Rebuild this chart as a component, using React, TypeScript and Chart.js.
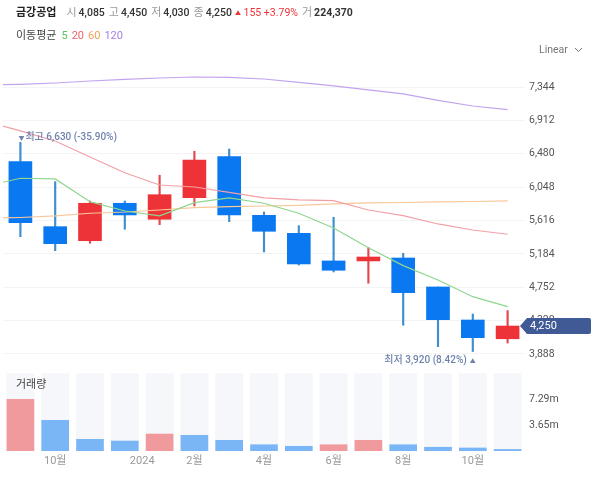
import { useEffect, useRef } from 'react'
import { Chart, registerables } from 'chart.js'

Chart.register(...registerables)

const FONT = 'Roboto, "Noto Sans CJK KR", sans-serif'
const CJK = '"Noto Sans CJK KR", sans-serif'

const STOCK_NAME = '금강공업'
const OHLC_LABELS = ['시', '고', '저', '종']
const OHLC_VALUES = ['4,085', '4,450', '4,030', '4,250']
const MA_PERIODS = ['5', '20', '60', '120']

// monthly candles, sep 2023 - nov 2024
const INDEX = [0, 1, 2, 3, 4, 5, 6, 7, 8, 9, 10, 11, 12, 13, 14]
const OPEN = [6379, 5537, 5355, 5840, 5633, 5913, 6444, 5684, 5451, 5093, 5093, 5131, 4756, 4328, 4085]
const CLOSE = [5589, 5317, 5840, 5689, 5951, 6401, 5689, 5477, 5054, 4972, 5144, 4682, 4332, 4099, 4250]
const HIGH = [6630, 6120, 5870, 5870, 6203, 6514, 6543, 5727, 5550, 5659, 5265, 5192, 4756, 4406, 4450]
const LOW = [5407, 5226, 5322, 5503, 5563, 5805, 5602, 5209, 5040, 4950, 4804, 4260, 3983, 3920, 4030]

// the averages start half a candle left of the first one
const MA_X = [-0.5, 0, 1, 2, 3, 4, 5, 6, 7, 8, 9, 10, 11, 12, 13, 14]
const MA5 = [6112, 6164, 6155, 5861, 5740, 5676, 5848, 5909, 5840, 5711, 5520, 5265, 5032, 4847, 4630, 4501]
const MA20 = [6841, 6777, 6647, 6440, 6236, 6077, 6051, 5980, 5909, 5883, 5874, 5753, 5679, 5572, 5494, 5439]
const MA60 = [5650, 5656, 5676, 5711, 5727, 5753, 5783, 5796, 5805, 5814, 5831, 5844, 5850, 5857, 5863, 5870]
const MA120 = [7376, 7381, 7398, 7424, 7444, 7463, 7476, 7470, 7450, 7405, 7360, 7308, 7256, 7172, 7100, 7053]

const VOLUME = [7.34, 4.36, 1.66, 1.42, 2.41, 2.23, 1.52, 0.89, 0.67, 0.89, 1.52, 0.89, 0.53, 0.43, 0.22]
const VOLUME_UP = [true, false, false, false, true, false, false, false, false, true, true, false, false, false, false]
const VOLUME_TRACK = 11

const PRICE_TICKS = [3888, 4320, 4752, 5184, 5616, 6048, 6480, 6912, 7344]
const VOLUME_TICKS = [3.65, 7.29]
const X_TICKS = [1, 3.5, 5, 7, 9, 11, 13]
const X_LABELS = ['10월', '2024', '2월', '4월', '6월', '8월', '10월']

const RED = '#ee3338'
const BLUE = '#0a78f0'
const NOTE = '#7083ad'

const labels = {
  id: 'labels',
  afterDraw(chart: any) {
    const { ctx, scales } = chart
    const x = scales.x
    const y = scales.y
    ctx.save()
    ctx.textBaseline = 'middle'
    ctx.fillStyle = NOTE
    ctx.textAlign = 'left'
    const hx = x.getPixelForValue(0) - 2
    const hy = y.getPixelForValue(6630) - 5
    ctx.font = `6px ${CJK}`
    ctx.fillText('▼', hx, hy)
    ctx.font = `500 10px ${FONT}`
    ctx.fillText('최고 6,630 (-35.90%)', hx + 7, hy)
    const lx = x.getPixelForValue(13) + 3
    const ly = y.getPixelForValue(3920) + 9
    ctx.textAlign = 'right'
    ctx.font = `6px ${CJK}`
    ctx.fillText('▲', lx, ly)
    ctx.font = `500 10px ${FONT}`
    ctx.fillText('최저 3,920 (8.42%)', lx - 9, ly)

    ctx.textAlign = 'left'
    ctx.font = `11px ${CJK}`
    ctx.fillStyle = '#444'
    ctx.fillText('거래량', 16, scales.volume.top + 18)

    // current price tag
    const ty = y.getPixelForValue(4250)
    ctx.fillStyle = '#3f5a94'
    ctx.beginPath()
    ctx.moveTo(520, ty)
    ctx.lineTo(527, ty - 8)
    ctx.lineTo(589, ty - 8)
    ctx.quadraticCurveTo(591, ty - 8, 591, ty - 6)
    ctx.lineTo(591, ty + 6)
    ctx.quadraticCurveTo(591, ty + 8, 589, ty + 8)
    ctx.lineTo(527, ty + 8)
    ctx.closePath()
    ctx.fill()
    ctx.fillStyle = '#fff'
    ctx.font = `11px ${FONT}`
    ctx.fillText('4,250', 530, ty + 0.5)
    ctx.restore()
  },
}

export default function App() {
  const canvasRef = useRef<HTMLCanvasElement>(null)

  useEffect(() => {
    if (!canvasRef.current) return

    const candleColor = INDEX.map(i => (CLOSE[i] >= OPEN[i] ? RED : BLUE))
    const wickColor = INDEX.map(i => (CLOSE[i] >= OPEN[i] ? '#e2494f' : '#3d8fd0'))
    const maLine = (values: number[], color: string) => ({
      type: 'line' as const,
      data: MA_X.map((x, i) => ({ x, y: values[i] })),
      borderColor: color,
      borderWidth: 1.2,
      pointRadius: 0,
      tension: 0,
      yAxisID: 'y',
      order: 1,
    })

    const chart = new Chart(canvasRef.current, {
      data: {
        datasets: [
          maLine(MA5, '#8fd68f'),
          maLine(MA20, '#f2a0a6'),
          maLine(MA60, '#f8c89a'),
          maLine(MA120, '#c3a3ee'),
          {
            type: 'bar',
            data: INDEX.map(i => ({ x: i, y: [OPEN[i], CLOSE[i]] })),
            backgroundColor: candleColor,
            barThickness: 23,
            grouped: false,
            yAxisID: 'y',
            order: 2,
          },
          {
            type: 'bar',
            data: INDEX.map(i => ({ x: i, y: [LOW[i], HIGH[i]] })),
            backgroundColor: wickColor,
            barThickness: 1.5,
            grouped: false,
            yAxisID: 'y',
            order: 3,
          },
          {
            type: 'bar',
            data: INDEX.map(i => ({ x: i, y: VOLUME[i] })),
            backgroundColor: VOLUME_UP.map(up => (up ? '#f09a9e' : '#7ab6f6')),
            barThickness: 27,
            grouped: false,
            yAxisID: 'volume',
            order: 4,
          },
          {
            type: 'bar',
            data: INDEX.map(i => ({ x: i, y: VOLUME_TRACK })),
            backgroundColor: '#f6f7fb',
            barThickness: 27.5,
            grouped: false,
            yAxisID: 'volume',
            order: 5,
          },
        ] as any,
      },
      options: {
        responsive: false,
        animation: false,
        layout: { padding: { left: 3, top: 60, right: 0, bottom: 0 } },
        plugins: { legend: { display: false }, tooltip: { enabled: false } },
        scales: {
          x: {
            type: 'linear',
            offset: false,
            min: -0.5,
            max: 14.5,
            afterBuildTicks: (s: any) => { s.ticks = X_TICKS.map(value => ({ value })) },
            afterFit: (s: any) => { s.height = 26 },
            grid: { display: false, offset: false, drawTicks: false },
            border: { display: false },
            ticks: {
              autoSkip: false,
              maxRotation: 0,
              padding: 4,
              color: '#999',
              font: { family: FONT, size: 11 },
              callback: (v: any) => X_LABELS[X_TICKS.indexOf(Number(v))],
            },
          },
          y: {
            position: 'right',
            stack: 'right',
            stackWeight: 306,
            weight: 0,
            min: 3732,
            max: 7696,
            afterBuildTicks: (s: any) => { s.ticks = PRICE_TICKS.map(value => ({ value })) },
            afterFit: (s: any) => { s.width = 75 },
            grid: { color: '#f3f3f3', drawTicks: false },
            border: { display: false },
            ticks: {
              padding: 4,
              color: '#555',
              font: { family: FONT, size: 10.5 },
              callback: (v: any) => Number(v).toLocaleString('en-US'),
            },
          },
          volume: {
            position: 'right',
            stack: 'right',
            stackWeight: 85,
            weight: 1,
            min: 0,
            max: 12.07,
            afterBuildTicks: (s: any) => { s.ticks = VOLUME_TICKS.map(value => ({ value })) },
            afterFit: (s: any) => { s.width = 75 },
            grid: { display: false, drawTicks: false },
            border: { display: false },
            ticks: {
              padding: 4,
              color: '#555',
              font: { family: FONT, size: 10.5 },
              callback: (v: any) => `${Number(v).toFixed(2)}m`,
            },
          },
        },
      } as any,
      plugins: [labels],
    })

    return () => chart.destroy()
  }, [])

  const gray = { color: '#999', fontSize: 11, marginLeft: 4, marginRight: 2 }
  const ma = { marginLeft: 4 }
  return (
    <div style={{ position: 'fixed', left: 0, top: 0, width: 600, height: 477, background: '#fff', fontFamily: FONT }}>
      <canvas ref={canvasRef} width={600} height={477} style={{ display: 'block' }} />
      <div style={{ position: 'absolute', left: 16, top: 5, fontSize: 10.5, lineHeight: '16px', whiteSpace: 'nowrap', color: '#333' }}>
        <b style={{ color: '#222', fontSize: 11, marginRight: 6 }}>{STOCK_NAME}</b>
        {OHLC_LABELS.map((l, i) => (
          <span key={l}>
            <span style={gray}>{l}</span>
            <span style={{ fontWeight: 500 }}>{OHLC_VALUES[i]}</span>
          </span>
        ))}
        <span style={{ color: RED, marginLeft: 3 }}>
          <span style={{ fontSize: 6, verticalAlign: 1 }}>▲</span> 155 +3.79%
        </span>
        <span style={gray}>거</span>
        <b>224,370</b>
      </div>
      <div style={{ position: 'absolute', left: 16, top: 28, fontSize: 11, lineHeight: '16px', color: '#444', whiteSpace: 'nowrap' }}>
        이동평균
        <span style={{ color: '#5cc45c', marginLeft: 5 }}>{MA_PERIODS[0]}</span>
        <span style={{ color: '#ee5f68', ...ma }}>{MA_PERIODS[1]}</span>
        <span style={{ color: '#f4a15c', ...ma }}>{MA_PERIODS[2]}</span>
        <span style={{ color: '#a583e8', ...ma }}>{MA_PERIODS[3]}</span>
      </div>
      <div style={{ position: 'absolute', left: 539, top: 42, fontSize: 10.5, lineHeight: '16px', color: '#777', whiteSpace: 'nowrap' }}>
        Linear
        <svg width="9" height="6" style={{ marginLeft: 6 }}>
          <path d="M1 1 L4.5 4.5 L8 1" fill="none" stroke="#777" strokeWidth="1" />
        </svg>
      </div>
    </div>
  )
}
